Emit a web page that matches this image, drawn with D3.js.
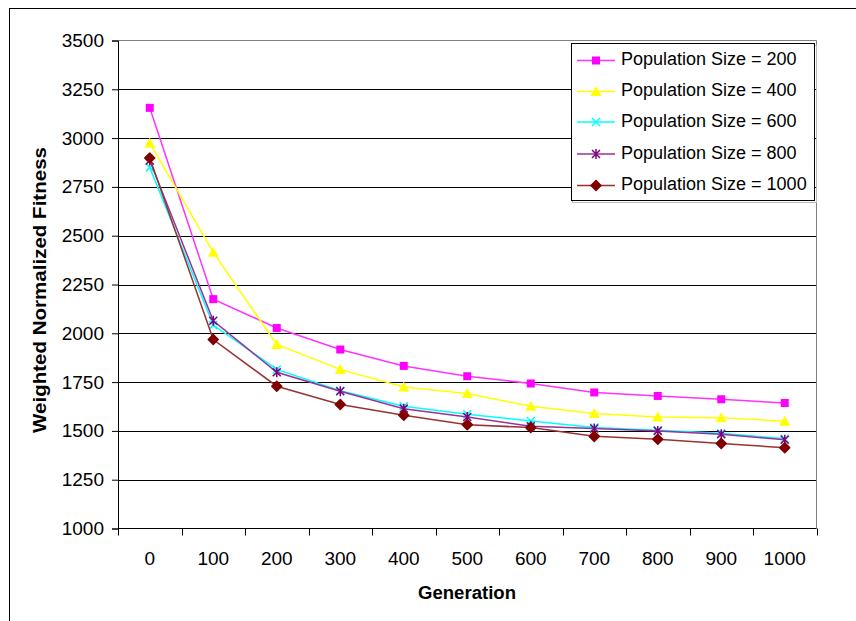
<!DOCTYPE html>
<html>
<head>
<meta charset="utf-8">
<script src="https://cdn.jsdelivr.net/npm/d3@7"></script>
<style>
  html, body { margin: 0; padding: 0; background: #fff; }
  svg { display: block; font-family: "Liberation Sans", Arial, sans-serif; }
</style>
</head>
<body>
<svg id="chart" width="856" height="621"></svg>
<script>
const generations = ["0","100","200","300","400","500","600","700","800","900","1000"];
const yTicks = [1000,1250,1500,1750,2000,2250,2500,2750,3000,3250,3500];

const seriesNames = ["Population Size = 200","Population Size = 400","Population Size = 600","Population Size = 800","Population Size = 1000"];
const pop200  = [3155,2175,2027,1917,1833,1780,1743,1697,1679,1662,1643];
const pop400  = [2975,2415,1943,1815,1725,1691,1626,1589,1571,1568,1549];
const pop600  = [2850,2042,1815,1706,1626,1585,1551,1517,1503,1488,1460];
const pop800  = [2885,2064,1800,1703,1614,1571,1524,1512,1500,1483,1455];
const pop1000 = [2898,1968,1729,1635,1580,1532,1517,1472,1457,1435,1414];
const seriesValues = [pop200, pop400, pop600, pop800, pop1000];
const seriesColors = ["#FF00FF","#FFFF00","#00FFFF","#800080","#800000"];
const lineColors = ["#FF33FF","#FFFF00","#00FFFF","#993399","#993333"];
const markers = ["square","triangle","x","star","diamond"];

const svg = d3.select("#chart");
const L = 118, R = 816.5, T = 40.5, B = 528.5;

// outer frame (top and left visible)
svg.append("rect").attr("x",9.5).attr("y",8.5).attr("width",900).attr("height",700)
  .attr("fill","none").attr("stroke","#000").attr("stroke-width",1);

const x = d3.scaleBand().domain(generations).range([L, R]).padding(0);
const y = d3.scaleLinear().domain([1000,3500]).range([B, T]);

// gridlines
svg.append("g").selectAll("line").data(yTicks.filter(v => v>1000 && v<3500)).join("line")
  .attr("x1",L).attr("x2",R).attr("y1",d=>Math.round(y(d))+0.5).attr("y2",d=>Math.round(y(d))+0.5)
  .attr("stroke","#000").attr("stroke-width",1);

// plot border (top and right gray)
svg.append("line").attr("x1",L).attr("x2",R).attr("y1",T).attr("y2",T).attr("stroke","#808080");
svg.append("line").attr("x1",R).attr("x2",R).attr("y1",T).attr("y2",B).attr("stroke","#808080");

// y axis
const yAxis = d3.axisLeft(y).tickValues(yTicks).tickSize(6).tickPadding(8).tickFormat(d3.format("d"));
const gy = svg.append("g").attr("transform",`translate(${L},0)`).call(yAxis);
gy.select(".domain").attr("stroke","#000");
gy.selectAll(".tick line").attr("stroke","#000");
gy.selectAll(".tick text").attr("font-size",19).attr("fill","#000")
  .attr("font-family","'Liberation Sans', Arial, sans-serif");

// x axis with ticks between categories
const gx = svg.append("g").attr("transform",`translate(0,${B})`);
gx.append("line").attr("x1",L).attr("x2",R).attr("y1",0).attr("y2",0).attr("stroke","#000");
const boundaries = generations.map(g => x(g)).concat([R]);
gx.selectAll("line.tk").data(boundaries).join("line").attr("class","tk")
  .attr("x1",d=>Math.round(d)+0.5).attr("x2",d=>Math.round(d)+0.5).attr("y1",0).attr("y2",7)
  .attr("stroke","#000");
gx.selectAll("text").data(generations).join("text")
  .attr("x",d=>x(d)+x.bandwidth()/2).attr("y",31).attr("text-anchor","middle")
  .attr("dominant-baseline","middle").attr("font-size",19).attr("fill","#000").text(d=>d);

// axis titles
svg.append("text").attr("x",467).attr("y",594).attr("text-anchor","middle")
  .attr("dominant-baseline","middle").attr("font-size",18).attr("font-weight","bold")
  .attr("textLength",98).attr("lengthAdjust","spacingAndGlyphs").text("Generation");
svg.append("text").attr("transform","translate(41,290) rotate(-90)").attr("text-anchor","middle")
  .attr("dominant-baseline","middle").attr("font-size",19).attr("font-weight","bold")
  .attr("textLength",286).attr("lengthAdjust","spacingAndGlyphs").text("Weighted Normalized Fitness");

function drawMarker(g, type, cx, cy, color) {
  if (type === "square") {
    g.append("rect").attr("x",cx-4).attr("y",cy-4).attr("width",8).attr("height",8).attr("fill",color);
  } else if (type === "triangle") {
    g.append("path").attr("d",`M${cx},${cy-5.5}L${cx+5.5},${cy+4.5}L${cx-5.5},${cy+4.5}Z`).attr("fill",color);
  } else if (type === "diamond") {
    g.append("path").attr("d",`M${cx},${cy-5}L${cx+5},${cy}L${cx},${cy+5}L${cx-5},${cy}Z`)
      .attr("fill",color).attr("stroke",color).attr("stroke-width",1.5).attr("stroke-linejoin","round");
  } else if (type === "x") {
    g.append("path").attr("d",`M${cx-4},${cy-4}L${cx+4},${cy+4}M${cx+4},${cy-4}L${cx-4},${cy+4}`)
      .attr("stroke",color).attr("stroke-width",1.5).attr("fill","none");
  } else if (type === "star") {
    g.append("path").attr("d",`M${cx-4},${cy-4}L${cx+4},${cy+4}M${cx+4},${cy-4}L${cx-4},${cy+4}M${cx},${cy-5}L${cx},${cy+5}`)
      .attr("stroke",color).attr("stroke-width",1.5).attr("fill","none");
  }
}

const line = d3.line().x((d,i)=>x(generations[i])+x.bandwidth()/2).y(d=>y(d));
seriesValues.forEach((vals, si) => {
  const g = svg.append("g");
  g.append("path").datum(vals).attr("d",line).attr("fill","none")
    .attr("stroke",lineColors[si]).attr("stroke-width",1.5);
  vals.forEach((v,i) => drawMarker(g, markers[si], x(generations[i])+x.bandwidth()/2, y(v), seriesColors[si]));
});

// legend
const lg = svg.append("g");
lg.append("rect").attr("x",572.5).attr("y",45.5).attr("width",244).attr("height",157)
  .attr("fill","none").attr("stroke","#bbb").attr("stroke-width",1);
lg.append("rect").attr("x",571.5).attr("y",43.5).attr("width",243).attr("height",157)
  .attr("fill","#fff").attr("stroke","#000").attr("stroke-width",1);
const legY = [60.5, 91.5, 122, 154, 185.5];
seriesNames.forEach((name, si) => {
  const cy = legY[si];
  lg.append("line").attr("x1",577).attr("x2",615).attr("y1",cy).attr("y2",cy)
    .attr("stroke",lineColors[si]).attr("stroke-width",1.5);
  drawMarker(lg, markers[si], 596, cy, seriesColors[si]);
  lg.append("text").attr("x",621).attr("y",cy).attr("dominant-baseline","middle")
    .attr("font-size",18).attr("fill","#000").text(name);
});
</script>
</body>
</html>
